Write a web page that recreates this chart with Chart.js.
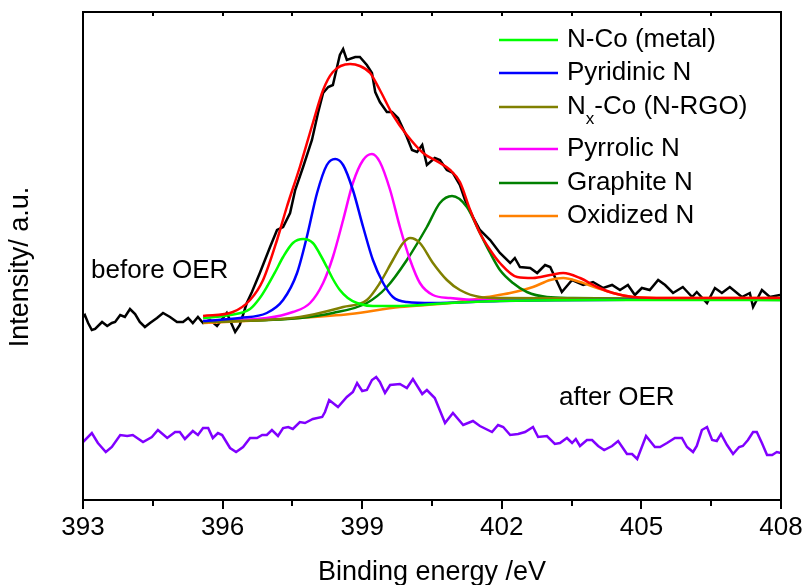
<!DOCTYPE html>
<html>
<head>
<meta charset="utf-8">
<script src="https://cdn.jsdelivr.net/npm/chart.js@4"></script>
<style>
  html, body { margin: 0; padding: 0; background: #fff; }
  #wrap { width: 804px; height: 585px; }
</style>
</head>
<body>
<div id="wrap"><canvas id="xps" width="804" height="585"></canvas></div>
<script>
// N 1s spectra (intensity in arbitrary units)

// raw spectrum before OER
const beforeX = [393.00, 393.04, 393.11, 393.19, 393.26, 393.41, 393.52, 393.62, 393.69, 393.80, 393.90, 394.01, 394.12, 394.22, 394.33, 394.44, 394.59, 394.72, 394.87, 395.02, 395.15, 395.26, 395.36, 395.47, 395.58, 395.73, 395.88, 396.09, 396.27, 396.37, 396.52, 396.63, 396.80, 397.02, 397.17, 397.30, 397.45, 397.56, 397.73, 397.92, 398.05, 398.16, 398.27, 398.37, 398.46, 398.52, 398.59, 398.67, 398.85, 398.95, 399.10, 399.21, 399.28, 399.38, 399.53, 399.64, 399.77, 399.96, 400.07, 400.18, 400.29, 400.39, 400.56, 400.67, 400.82, 400.95, 401.10, 401.21, 401.38, 401.53, 401.75, 401.96, 402.18, 402.28, 402.39, 402.61, 402.76, 402.93, 403.04, 403.29, 403.51, 403.75, 403.96, 404.18, 404.37, 404.54, 404.71, 404.86, 405.01, 405.18, 405.36, 405.51, 405.68, 405.89, 406.09, 406.19, 406.41, 406.58, 406.73, 406.90, 407.16, 407.33, 407.40, 407.59, 407.76, 407.98];
const beforeY = [183, 185, 177, 170, 171, 178, 174, 177, 178, 185, 183, 191, 186, 178, 173, 177, 182, 187, 183, 178, 178, 182, 177, 183, 177, 180, 174, 187, 168, 175, 197, 208, 227, 253, 270, 273, 287, 310, 333, 360, 387, 407, 413, 415, 433, 445, 451, 440, 443, 443, 435, 427, 408, 398, 388, 388, 382, 363, 350, 348, 355, 335, 342, 340, 330, 327, 315, 300, 283, 270, 260, 247, 237, 242, 233, 232, 227, 235, 233, 208, 220, 215, 218, 212, 215, 210, 215, 205, 212, 210, 220, 215, 207, 213, 203, 208, 197, 212, 207, 213, 203, 207, 193, 210, 203, 205];

// raw spectrum after OER
const afterX = [393.00, 393.19, 393.32, 393.49, 393.62, 393.80, 393.95, 394.07, 394.29, 394.48, 394.61, 394.81, 394.98, 395.08, 395.19, 395.36, 395.47, 395.58, 395.69, 395.79, 395.90, 395.99, 396.16, 396.29, 396.44, 396.59, 396.74, 396.85, 396.95, 397.06, 397.19, 397.30, 397.41, 397.51, 397.66, 397.77, 397.94, 398.14, 398.20, 398.29, 398.48, 398.67, 398.80, 398.89, 399.00, 399.10, 399.21, 399.30, 399.38, 399.49, 399.60, 399.81, 399.96, 400.09, 400.29, 400.39, 400.56, 400.78, 400.95, 401.17, 401.38, 401.53, 401.79, 401.92, 402.03, 402.18, 402.35, 402.50, 402.67, 402.78, 402.97, 403.14, 403.25, 403.40, 403.51, 403.59, 403.68, 403.83, 403.94, 404.07, 404.20, 404.37, 404.50, 404.69, 404.80, 404.91, 405.10, 405.29, 405.40, 405.55, 405.72, 405.87, 405.98, 406.11, 406.19, 406.30, 406.41, 406.52, 406.62, 406.71, 406.84, 406.97, 407.10, 407.18, 407.29, 407.40, 407.48, 407.59, 407.70, 407.81, 407.91, 408.00];
const afterY = [58, 67, 57, 48, 53, 65, 64, 65, 58, 63, 70, 62, 68, 68, 61, 69, 65, 72, 72, 62, 67, 65, 52, 48, 53, 62, 62, 65, 65, 70, 64, 72, 73, 71, 78, 77, 81, 83, 88, 100, 93, 103, 108, 117, 109, 110, 120, 123, 118, 107, 115, 116, 112, 121, 106, 110, 102, 77, 87, 75, 79, 74, 68, 75, 73, 65, 66, 68, 73, 63, 64, 56, 57, 62, 57, 61, 54, 60, 60, 54, 50, 54, 59, 46, 46, 41, 64, 53, 53, 57, 62, 62, 53, 48, 54, 70, 73, 60, 59, 66, 55, 46, 53, 54, 60, 68, 68, 57, 45, 45, 48, 47];

// fitted components (peak + background)
const nCoX = [395.58, 396.16, 396.59, 396.80, 396.95, 397.13, 397.30, 397.51, 397.73, 397.94, 398.09, 398.24, 398.37, 398.52, 398.69, 398.89, 399.23, 399.81, 400.89, 401.96, 404.11, 407.98];
const nCoY = [182, 185, 191, 202, 213, 228, 243, 257, 261, 257, 246, 233, 221, 210, 202, 197, 194, 194, 197, 199, 200, 200];

const pyridinicX = [395.58, 396.37, 396.95, 397.30, 397.60, 397.81, 398.03, 398.24, 398.42, 398.59, 398.80, 399.02, 399.23, 399.45, 399.66, 399.96, 400.52, 401.96, 407.98];
const pyridinicY = [179, 182, 187, 200, 227, 263, 307, 335, 341, 335, 310, 273, 240, 217, 203, 198, 197, 199, 201];

const nxCoX = [395.58, 397.66, 398.59, 399.10, 399.38, 399.66, 399.88, 400.03, 400.24, 400.52, 400.82, 401.10, 401.53, 401.96, 407.98];
const nxCoY = [178, 183, 193, 200, 217, 240, 257, 262, 257, 237, 220, 210, 203, 202, 201];

const pyrrolicX = [395.58, 396.95, 397.51, 397.88, 398.16, 398.37, 398.59, 398.80, 399.02, 399.21, 399.38, 399.60, 399.81, 400.03, 400.24, 400.52, 400.89, 401.53, 407.98];
const pyrrolicY = [179, 182, 188, 197, 217, 243, 280, 317, 340, 346, 338, 310, 273, 240, 217, 205, 202, 200, 201];

const graphiteX = [395.58, 397.66, 398.37, 399.10, 399.53, 399.96, 400.39, 400.67, 400.93, 401.25, 401.53, 401.75, 401.96, 402.24, 402.54, 402.97, 403.53, 407.98];
const graphiteY = [178, 182, 187, 197, 213, 240, 273, 297, 304, 293, 267, 247, 230, 217, 208, 203, 202, 200];

const oxidizedX = [395.58, 397.66, 398.74, 399.81, 400.89, 401.68, 402.18, 402.67, 403.04, 403.32, 403.68, 404.05, 404.39, 404.82, 405.55, 407.98];
const oxidizedY = [177, 182, 186, 193, 197, 203, 207, 213, 220, 222, 218, 212, 207, 203, 202, 202];

// envelope of the fit
const envelopeX = [395.58, 396.22, 396.59, 396.87, 397.17, 397.38, 397.66, 397.94, 398.16, 398.37, 398.74, 398.95, 399.17, 399.38, 399.66, 399.96, 400.31, 400.67, 400.89, 401.10, 401.32, 401.53, 401.75, 401.96, 402.33, 402.67, 403.04, 403.32, 403.68, 404.05, 404.39, 404.82, 405.55, 407.98];
const envelopeY = [184, 188, 200, 220, 260, 293, 333, 377, 410, 428, 436, 434, 427, 410, 385, 365, 347, 337, 330, 318, 290, 267, 250, 237, 223, 222, 225, 227, 222, 213, 207, 203, 202, 202];

const componentNames = ['N-Co (metal)', 'Pyridinic N', 'Nx-Co (N-RGO)', 'Pyrrolic N', 'Graphite N', 'Oxidized N'];
const componentColors = ['#00ff00', '#0000ff', '#808000', '#ff00ff', '#008000', '#ff8000'];
const xTicks = [393, 396, 399, 402, 405, 408];

const FONT = '"Liberation Sans", Arial, sans-serif';

function pts(xs, ys) {
    return xs.map((x, i) => ({ x: x, y: ys[i] }));
}

function rawLine(label, xs, ys, color, order) {
    return {
        label: label,
        data: pts(xs, ys),
        showLine: true,
        borderColor: color,
        borderWidth: 2.5,
        pointRadius: 0,
        tension: 0,
        order: order
    };
}

function fitLine(label, xs, ys, color, order) {
    return {
        label: label,
        data: pts(xs, ys),
        showLine: true,
        borderColor: color,
        borderWidth: 2.5,
        pointRadius: 0,
        cubicInterpolationMode: 'monotone',
        order: order
    };
}

const compX = [nCoX, pyridinicX, nxCoX, pyrrolicX, graphiteX, oxidizedX];
const compY = [nCoY, pyridinicY, nxCoY, pyrrolicY, graphiteY, oxidizedY];

const datasets = [
    rawLine('before OER', beforeX, beforeY, '#000000', 10),
    rawLine('after OER', afterX, afterY, '#8000ff', 10)
];
componentNames.forEach((name, i) => {
    datasets.push(fitLine(name, compX[i], compY[i], componentColors[i], 5));
});
datasets.push(fitLine('Envelope', envelopeX, envelopeY, '#ff0000', 1));

// frame, ticks, tick labels, titles, annotations and legend
const decor = {
    id: 'decor',
    afterDraw(chart) {
        const ctx = chart.ctx;
        const a = chart.chartArea;
        const xs = chart.scales.x;
        ctx.save();
        ctx.strokeStyle = '#000';
        ctx.lineWidth = 2;
        ctx.strokeRect(a.left, a.top, a.right - a.left, a.bottom - a.top);

        // bottom ticks (outward), top ticks (inward)
        for (let v = 393; v <= 408.001; v += 1.5) {
            const px = Math.round(xs.getPixelForValue(v));
            const major = Math.abs((v - 393) % 3) < 0.01;
            ctx.beginPath();
            ctx.moveTo(px, a.bottom);
            ctx.lineTo(px, a.bottom + (major ? 9 : 6));
            ctx.moveTo(px, a.top);
            ctx.lineTo(px, a.top + 4);
            ctx.stroke();
        }

        ctx.fillStyle = '#000';
        ctx.font = '26px ' + FONT;
        ctx.textAlign = 'center';
        ctx.textBaseline = 'middle';
        xTicks.forEach(v => {
            ctx.fillText(String(v), xs.getPixelForValue(v), 528);
        });

        ctx.textBaseline = 'alphabetic';
        ctx.textAlign = 'left';
        ctx.fillText('before OER', 91, 278);
        ctx.fillText('after OER', 559, 405);

        ctx.textAlign = 'center';
        ctx.textBaseline = 'middle';
        ctx.font = '27px ' + FONT;
        ctx.fillText('Binding energy /eV', 432, 573);
        ctx.save();
        ctx.translate(21, 267);
        ctx.rotate(-Math.PI / 2);
        ctx.fillText('Intensity/ a.u.', 0, 0);
        ctx.restore();

        // legend
        const rowsY = [40, 73, 107, 149, 183, 216];
        ctx.textAlign = 'left';
        ctx.textBaseline = 'middle';
        componentNames.forEach((name, i) => {
            const y = rowsY[i];
            ctx.strokeStyle = componentColors[i];
            ctx.lineWidth = 2.5;
            ctx.beginPath();
            ctx.moveTo(499, y);
            ctx.lineTo(558, y);
            ctx.stroke();
            ctx.font = '26px ' + FONT;
            if (name.startsWith('Nx')) {
                ctx.fillText('N', 567, y);
                let w = ctx.measureText('N').width;
                ctx.font = '17px ' + FONT;
                ctx.fillText('x', 567 + w, y + 12);
                w += ctx.measureText('x').width;
                ctx.font = '26px ' + FONT;
                ctx.fillText(name.slice(2), 567 + w, y);
            } else {
                ctx.fillText(name, 567, y);
            }
        });
        ctx.restore();
    }
};

new Chart(document.getElementById('xps'), {
    type: 'scatter',
    data: { datasets: datasets },
    options: {
        responsive: false,
        animation: false,
        events: [],
        layout: { padding: { left: 83, right: 23, top: 12, bottom: 0 } },
        plugins: {
            legend: { display: false },
            tooltip: { enabled: false }
        },
        scales: {
            x: {
                type: 'linear',
                min: 393,
                max: 408,
                afterFit: s => { s.height = 85; },
                grid: { display: false, drawTicks: false },
                border: { display: false },
                ticks: { display: false }
            },
            y: {
                type: 'linear',
                min: 0,
                max: 488,
                display: false
            }
        }
    },
    plugins: [decor]
});
</script>
</body>
</html>
